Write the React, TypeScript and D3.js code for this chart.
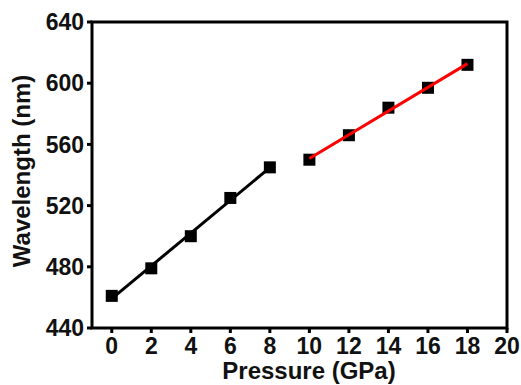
import React from "react";
import * as d3 from "d3";

const blackX = [0, 2, 4, 6, 8];
const blackY = [461, 479, 500, 525, 545];
const redX = [10, 12, 14, 16, 18];
const redY = [550, 566, 584, 597, 612];
const xTicks = [0, 2, 4, 6, 8, 10, 12, 14, 16, 18, 20];
const yTicks = [440, 480, 520, 560, 600, 640];

function fit(xs: number[], ys: number[]) {
  const mx = d3.mean(xs)!;
  const my = d3.mean(ys)!;
  let sxy = 0, sxx = 0;
  xs.forEach((x, i) => { sxy += (x - mx) * (ys[i] - my); sxx += (x - mx) ** 2; });
  const k = sxy / sxx;
  const b = my - k * mx;
  const x0 = d3.min(xs)!, x1 = d3.max(xs)!;
  return [[x0, k * x0 + b], [x1, k * x1 + b]] as [number, number][];
}

export default function App() {
  const W = 521, H = 385;
  const x = d3.scaleLinear().domain([-1, 20]).range([92, 507]);
  const y = d3.scaleLinear().domain([440, 640]).range([328, 22]);
  const line = d3.line<[number, number]>().x(d => x(d[0])).y(d => y(d[1]));
  const font = "'Liberation Sans', Arial, sans-serif";
  const sq = 12;
  const pts = (xs: number[], ys: number[]) =>
    xs.map((v, i) => (
      <rect key={i} x={x(v) - sq / 2} y={y(ys[i]) - sq / 2} width={sq} height={sq} fill="#000" />
    ));
  return (
    <svg width={W} height={H} style={{ position: "absolute", left: 0, top: 0, background: "#fff" }}>
      <rect x={x(-1)} y={y(640)} width={x(20) - x(-1)} height={y(440) - y(640)} fill="none" stroke="#000" strokeWidth={3} />
      {xTicks.map(t => (
        <g key={t}>
          <line x1={x(t)} x2={x(t)} y1={y(440)} y2={y(440) + 5} stroke="#000" strokeWidth={3} />
          <text x={x(t)} y={354} textAnchor="middle" fontFamily={font} fontWeight="bold" fontSize={23} fill="#111">{t}</text>
        </g>
      ))}
      {yTicks.map(t => (
        <g key={t}>
          <line x1={x(-1) - 5} x2={x(-1)} y1={y(t)} y2={y(t)} stroke="#000" strokeWidth={3} />
          <text x={84} y={y(t)} dy="0.36em" textAnchor="end" fontFamily={font} fontWeight="bold" fontSize={23} fill="#111">{t}</text>
        </g>
      ))}
      {pts(blackX, blackY)}
      {pts(redX, redY)}
      <path d={line(fit(blackX, blackY))!} fill="none" stroke="#000" strokeWidth={3} />
      <path d={line(fit(redX, redY))!} fill="none" stroke="#f00" strokeWidth={3} />
      <text x={309} y={379} textAnchor="middle" fontFamily={font} fontWeight="bold" fontSize={24} fill="#111">Pressure (GPa)</text>
      <text transform="translate(30,171) rotate(-90)" textAnchor="middle" fontFamily={font} fontWeight="bold" fontSize={24} fill="#111">Wavelength (nm)</text>
    </svg>
  );
}
